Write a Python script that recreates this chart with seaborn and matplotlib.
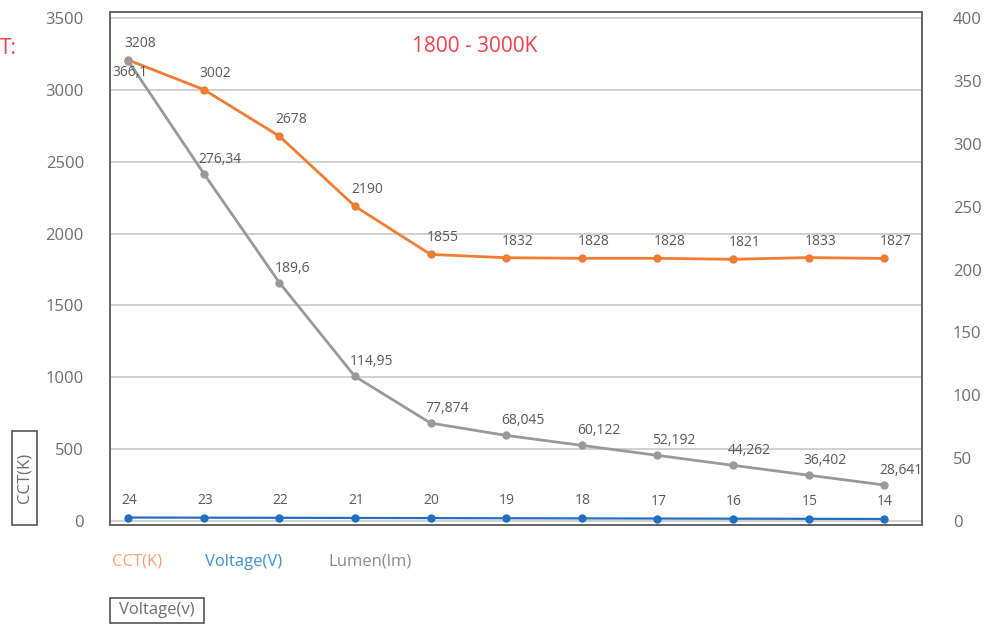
import matplotlib
matplotlib.use("Agg")
import matplotlib.pyplot as plt
from matplotlib.patches import Rectangle
import seaborn as sns
import pandas as pd
import numpy as np

# ── Datos ──────────────────────────────────────────────────────────────────
voltage = [24, 23, 22, 21, 20, 19, 18, 17, 16, 15, 14]
cct = [3208, 3002, 2678, 2190, 1855, 1832, 1828, 1828, 1821, 1833, 1827]
lumen = [366.1, 276.34, 189.6, 114.95, 77.874, 68.045, 60.122, 52.192, 44.262, 36.402, 28.641]
left_ticks = [0, 500, 1000, 1500, 2000, 2500, 3000, 3500]
right_ticks = [0, 50, 100, 150, 200, 250, 300, 350, 400]

df = pd.DataFrame({"pos": np.arange(len(voltage)), "voltage": voltage, "cct": cct, "lumen": lumen})

sns.set_theme(style="white")
plt.rcParams["font.family"] = ["Open Sans", "DejaVu Sans"]

C_ORANGE = "#f07d32"
C_BLUE = "#1f70c1"
C_GRAY = "#999999"
C_TEXT = "#595959"

W, H = 985, 624
fig = plt.figure(figsize=(W / 100, H / 100), dpi=100)
ax = fig.add_axes([110 / W, 1 - 525 / H, (922 - 110) / W, (525 - 12) / H])
ax2 = ax.twinx()

ax.set_xlim(-0.24, 10.5)
ax.set_ylim(-28, 3542)
ax2.set_ylim(-28 / 8.75, 3542 / 8.75)

for t in left_ticks:
    ax.axhline(t, color="#c8c8c8", lw=1.2, zorder=0)

sns.lineplot(data=df, x="pos", y="cct", ax=ax, color=C_ORANGE, marker="o",
             markersize=6, markeredgewidth=0, lw=2)
sns.lineplot(data=df, x="pos", y="voltage", ax=ax, color=C_BLUE, marker="o",
             markersize=6, markeredgewidth=0, lw=1.6)
sns.lineplot(data=df, x="pos", y="lumen", ax=ax2, color=C_GRAY, marker="o",
             markersize=6, markeredgewidth=0, lw=2)

px = 72 / 100  # pixel -> points
for i, v in enumerate(cct):
    ax.annotate(str(v), (i, v), xytext=(-4 * px, 9 * px), textcoords="offset points",
                ha="left", va="bottom", fontsize=10, color=C_TEXT)
for i, v in enumerate(voltage):
    ax.annotate(str(v), (i, v), xytext=(1 * px, 10 * px), textcoords="offset points",
                ha="center", va="bottom", fontsize=10, color=C_TEXT)
for i, v in enumerate(lumen):
    lab = f"{v:g}".replace(".", ",")
    if i == 0:
        ax2.annotate(lab, (i, v), xytext=(-16 * px, -4 * px), textcoords="offset points",
                     ha="left", va="top", fontsize=10, color=C_TEXT)
    else:
        ax2.annotate(lab, (i, v), xytext=(-5 * px, 7 * px), textcoords="offset points",
                     ha="left", va="bottom", fontsize=10, color=C_TEXT)

ax.set_xticks([])
ax.set_yticks(left_ticks)
ax.set_yticklabels([str(t) for t in left_ticks], fontsize=12, color="#6e6e6e")
ax.tick_params(axis="y", length=0, pad=26 * px)
ax2.set_yticks(right_ticks)
ax2.set_yticklabels([str(t) for t in right_ticks], fontsize=12, color="#6e6e6e")
ax2.tick_params(axis="y", length=0, pad=31 * px)
ax.set_xlabel("")
ax.set_ylabel("")
ax2.set_ylabel("")
for a in (ax, ax2):
    for s in a.spines.values():
        s.set_color("#666666")
        s.set_linewidth(1.3)

# Textos
fig.text(475 / W, 1 - 47 / H, "1800 - 3000K", color="#f0404f", fontsize=15,
         ha="center", va="center")
fig.text(0, 1 - 48 / H, "T:", color="#f0404f", fontsize=15, ha="left", va="center")

fig.text(112 / W, 1 - 562 / H, "CCT(K)", color="#f5a070", fontsize=12, ha="left", va="center")
fig.text(205 / W, 1 - 562 / H, "Voltage(V)", color="#3d8fd6", fontsize=12, ha="left", va="center")
fig.text(328 / W, 1 - 562 / H, "Lumen(lm)", color="#8c8c8c", fontsize=12, ha="left", va="center")

# Cajas de etiquetas de eje
fig.patches.append(Rectangle((12 / W, 1 - 525 / H), 25 / W, 94 / H, transform=fig.transFigure,
                             fill=False, ec="#555555", lw=1.2))
fig.text(24.5 / W, 1 - 478 / H, "CCT(K)", rotation=90, color="#6e6e6e", fontsize=12,
         ha="center", va="center")
fig.patches.append(Rectangle((110 / W, 1 - 623 / H), 94 / W, 25 / H, transform=fig.transFigure,
                             fill=False, ec="#555555", lw=1.2))
fig.text(157 / W, 1 - 610 / H, "Voltage(v)", color="#6e6e6e", fontsize=12,
         ha="center", va="center")

fig.savefig("out.png", dpi=100)
